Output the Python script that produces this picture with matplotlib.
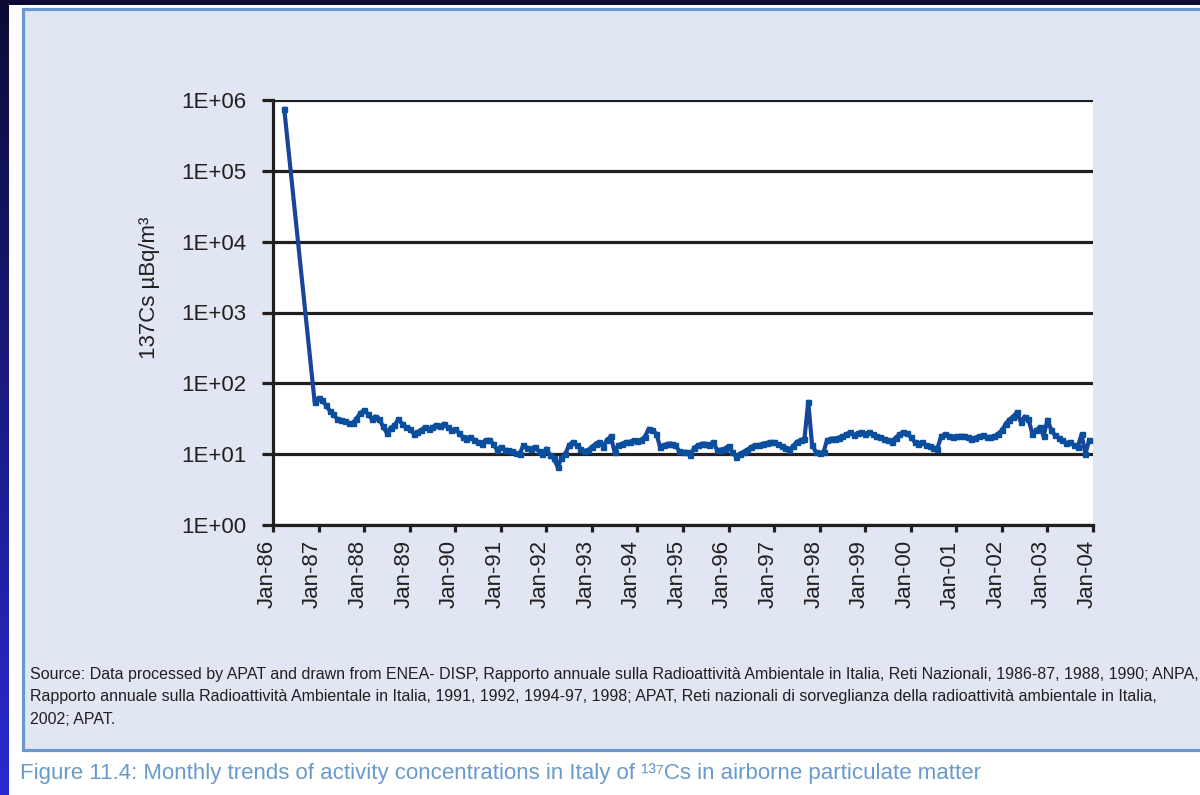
import matplotlib
matplotlib.use("Agg")
import matplotlib.pyplot as plt
import matplotlib.dates as mdates
from matplotlib.patches import Rectangle
from matplotlib.ticker import FixedLocator, FixedFormatter, NullLocator
from matplotlib.transforms import ScaledTranslation
import numpy as np
import pandas as pd

# monthly 137Cs activity concentration (uBq/m3)
chernobyl_month = "1986-04"
chernobyl_value = 7.5e5

first_month = "1986-12"
cs137 = [
    54,                                                             # Dec-86
    62, 58, 49, 41, 37, 31, 30, 29, 27.5, 27.5, 31.6, 38,           # 1987
    41.6, 37, 31.6, 34, 31.6, 24.6, 20, 23.6, 25.5, 31, 27, 24,     # 1988
    23, 19.5, 20.5, 21.7, 24, 22.4, 24, 26, 24.6, 27, 24, 21.7,     # 1989
    22.3, 20, 17.5, 16.6, 17.5, 16, 14.9, 14.1, 15.8, 16, 14.1, 11.5,  # 1990
    12.7, 11.6, 11.4, 11.1, 10.4, 10, 13.4, 12.4, 12, 12.7, 11.1, 10,  # 1991
    12, 9.7, 8.7, 6.6, 8.7, 10, 13.4, 14.9, 13.4, 12, 11.1, 11.4,   # 1992
    12.7, 14.1, 14.9, 12.7, 15.8, 17.9, 10.8, 13.4, 14.1, 14.9, 14.9, 15.8,  # 1993
    15.4, 16.1, 17.5, 22.9, 21.7, 19.5, 12.7, 13.4, 14.1, 14.1, 13.4, 11.1,  # 1994
    10.8, 10.8, 9.7, 12.4, 13.4, 14.1, 14.1, 13.4, 14.9, 11.4, 11.6, 12,     # 1995
    13, 10.8, 9.2, 10.2, 10.8, 11.6, 12.7, 13.4, 13.4, 14.1, 14.4, 14.9,     # 1996
    14.9, 13.8, 13, 12.4, 11.4, 13, 14.9, 15.8, 16.6, 55, 13.4, 10.8,        # 1997
    10.4, 10.8, 15.8, 16.6, 16.6, 17.1, 17.9, 19, 20.5, 18.5, 19.8, 20.5,    # 1998
    19.5, 20.5, 19, 17.9, 17.5, 16.6, 16, 14.9, 17.1, 19, 20.5, 19.8,        # 1999
    17.5, 14.9, 14.1, 14.8, 13.4, 13, 12.4, 12, 17.9, 19, 18.2, 17.5,        # 2000
    17.9, 18.2, 18.2, 17.5, 16.6, 17.1, 17.9, 18.5, 17.5, 17.5, 17.9, 19.5,  # 2001
    21.7, 27, 30.7, 34, 39, 28.4, 34, 31.6, 19.5, 21.7, 24.2, 17.9,          # 2002
    30.7, 21.7, 18.5, 17.1, 15.8, 14.4, 14.9, 13.4, 12.7, 19, 10.1, 15.8,    # 2003
]

y_ticks = [1, 10, 100, 1e3, 1e4, 1e5, 1e6]
y_tick_labels = ["1E+00", "1E+01", "1E+02", "1E+03", "1E+04", "1E+05", "1E+06"]

source_lines = [
    "Source: Data processed by APAT and drawn from ENEA- DISP, Rapporto annuale sulla "
    "Radioattività Ambientale in Italia, Reti Nazionali, 1986-87, 1988, 1990; ANPA,",
    "Rapporto annuale sulla Radioattività Ambientale in Italia, 1991, 1992, 1994-97, 1998; "
    "APAT, Reti nazionali di sorveglianza della radioattività ambientale in Italia,",
    "2002; APAT.",
]
caption = ("Figure 11.4: Monthly trends of activity concentrations in Italy of "
           "¹³⁷Cs in airborne particulate matter")

dates = pd.to_datetime([chernobyl_month] + list(
    pd.date_range(first_month, periods=len(cs137), freq="MS").strftime("%Y-%m")))
values = [chernobyl_value] + cs137

W, H = 1200, 795
plt.rcParams["font.family"] = ["Liberation Sans", "DejaVu Sans"]

fig = plt.figure(figsize=(W / 100, H / 100), dpi=100)
fig.patch.set_facecolor("white")

# page decoration: dark band on top, gradient band on the left, framed panel
fig.add_artist(Rectangle((0, 1 - 5 / H), 1, 5 / H, transform=fig.transFigure,
                         facecolor="#0b0b36", edgecolor="none", zorder=0))
grad_ax = fig.add_axes([0, 0, 9 / W, 1])
grad = np.linspace(0, 1, 256)[:, None]
c_top = np.array([0x0b, 0x0b, 0x36]) / 255
c_bot = np.array([0x2a, 0x2a, 0xd0]) / 255
grad_ax.imshow(c_top + grad[..., None] * (c_bot - c_top), aspect="auto")
grad_ax.axis("off")

fig.add_artist(Rectangle((23 / W, 1 - 750 / H), 1.0, (750 - 9) / H,
                         transform=fig.transFigure, facecolor="#e0e6f2",
                         edgecolor="#6a9acb", linewidth=2.3, zorder=0))

ax = fig.add_axes([273 / W, 1 - 525 / H, 820 / W, 425 / H])
ax.set_facecolor("white")
ax.plot(dates, values, color="#1a4499", linewidth=3.0, marker="s", markersize=3.6,
        markerfacecolor="#0a4f9e", markeredgecolor="#0a4f9e", zorder=3)

ax.set_yscale("log")
ax.set_ylim(1, 1e6)
ax.yaxis.set_major_locator(FixedLocator(y_ticks))
ax.yaxis.set_major_formatter(FixedFormatter(y_tick_labels))
ax.yaxis.set_minor_locator(NullLocator())
ax.grid(axis="y", color="#231f20", linewidth=2.3)

ax.set_xlim(pd.Timestamp("1986-01-01"), pd.Timestamp("2004-01-01"))
ax.xaxis.set_major_locator(mdates.YearLocator())
ax.xaxis.set_major_formatter(mdates.DateFormatter("%b-%y"))

for side in ["top", "right"]:
    ax.spines[side].set_visible(False)
for side in ["left", "bottom"]:
    ax.spines[side].set_color("#231f20")
    ax.spines[side].set_linewidth(2.3)

ax.tick_params(axis="y", direction="out", length=8, width=2.3, pad=11,
               labelsize=16, colors="#231f20")
ax.tick_params(axis="x", direction="out", length=5, width=2.3, pad=6,
               labelsize=16, colors="#231f20")
shift = ScaledTranslation(-6 / 100, 0, fig.dpi_scale_trans)
for lbl in ax.get_xticklabels():
    lbl.set_rotation(90)
    lbl.set_ha("center")
    lbl.set_transform(lbl.get_transform() + shift)

fig.text(150 / W, 1 - 288 / H, "137Cs µBq/m³", rotation=90, ha="center",
         va="center", fontsize=16, color="#231f20")

for text, y in zip(source_lines, [675, 697, 719]):
    fig.text(30 / W, 1 - y / H, text, ha="left", va="center", fontsize=11.5,
             color="#231f20")

fig.text(20 / W, 1 - 773 / H, caption, ha="left", va="center", fontsize=16,
         color="#6a9acb")

fig.savefig("out.png", dpi=100, facecolor=fig.get_facecolor())
